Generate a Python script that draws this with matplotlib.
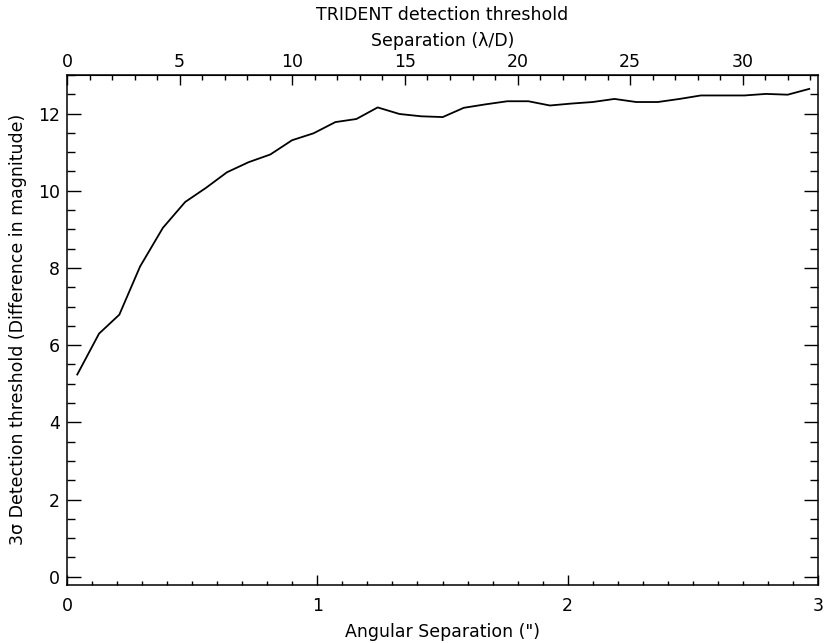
import matplotlib
matplotlib.use("Agg")
import matplotlib.pyplot as plt
from matplotlib.ticker import MultipleLocator, FixedLocator

# Data (angular separation in arcsec, 3-sigma threshold in mag)
sep_arcsec = [0.041, 0.128, 0.209, 0.292, 0.383, 0.472, 0.556, 0.639, 0.725, 0.812,
              0.899, 0.985, 1.072, 1.156, 1.241, 1.328, 1.415, 1.501, 1.585, 1.672,
              1.759, 1.843, 1.929, 2.015, 2.100, 2.187, 2.274, 2.360, 2.447, 2.532,
              2.620, 2.706, 2.792, 2.879, 2.965]
threshold = [5.24, 6.30, 6.79, 8.04, 9.04, 9.71, 10.08, 10.48, 10.74, 10.94,
             11.31, 11.49, 11.78, 11.86, 12.16, 11.99, 11.93, 11.91, 12.15, 12.24,
             12.32, 12.32, 12.21, 12.26, 12.30, 12.38, 12.30, 12.30, 12.38, 12.47,
             12.47, 12.47, 12.51, 12.49, 12.64]

ARCSEC_PER_LD = 0.09  # conversion for top axis (lambda/D)
top_major = [0, 5, 10, 15, 20, 25, 30]
top_minor = list(range(0, 34))

title = "TRIDENT detection threshold"
top_label = "Separation (\u03bb/D)"
bottom_label = "Angular Separation (\")"
y_label = "3\u03c3 Detection threshold (Difference in magnitude)"

plt.rcParams['font.family'] = ['DejaVu Sans']
fs = 12.5

fig = plt.figure(figsize=(8.25, 6.43), dpi=100)
ax = fig.add_axes([67/825, 1 - 584.5/643, (818-67)/825, (584.5-75)/643])

ax.plot(sep_arcsec, threshold, color='black', linewidth=1.3)

ax.set_xlim(0, 3)
ax.set_ylim(-0.2, 13.0)

for s in ax.spines.values():
    s.set_linewidth(1.1)

ax.xaxis.set_major_locator(MultipleLocator(1))
ax.xaxis.set_minor_locator(MultipleLocator(0.1))
ax.yaxis.set_major_locator(MultipleLocator(2))
ax.yaxis.set_minor_locator(MultipleLocator(0.5))

ax.tick_params(axis='x', which='major', direction='in', length=7, width=1.0,
               labelsize=fs, pad=9, top=False, bottom=True)
ax.tick_params(axis='x', which='minor', direction='in', length=3.2, width=1.0,
               top=False, bottom=True)
ax.tick_params(axis='y', which='major', direction='in', length=10, width=1.0,
               labelsize=fs, pad=5, left=True, right=True)
ax.tick_params(axis='y', which='minor', direction='in', length=5.5, width=1.0,
               left=True, right=True)

ax.set_xlabel(bottom_label, fontsize=fs, labelpad=6)
ax.set_ylabel(y_label, fontsize=fs, labelpad=8)

top = ax.secondary_xaxis('top', functions=(lambda x: x / ARCSEC_PER_LD,
                                            lambda x: x * ARCSEC_PER_LD))
top.xaxis.set_major_locator(FixedLocator(top_major))
top.xaxis.set_minor_locator(FixedLocator(top_minor))
top.tick_params(axis='x', which='major', direction='in', length=7, width=1.0,
                labelsize=fs, pad=3)
top.tick_params(axis='x', which='minor', direction='in', length=3.6, width=1.0)
top.set_xlabel(top_label, fontsize=fs, labelpad=5)

fig.text((67+818)/2/825, 1 - 15/643, title, ha='center', va='center', fontsize=fs)

fig.savefig("out.png", dpi=100)
